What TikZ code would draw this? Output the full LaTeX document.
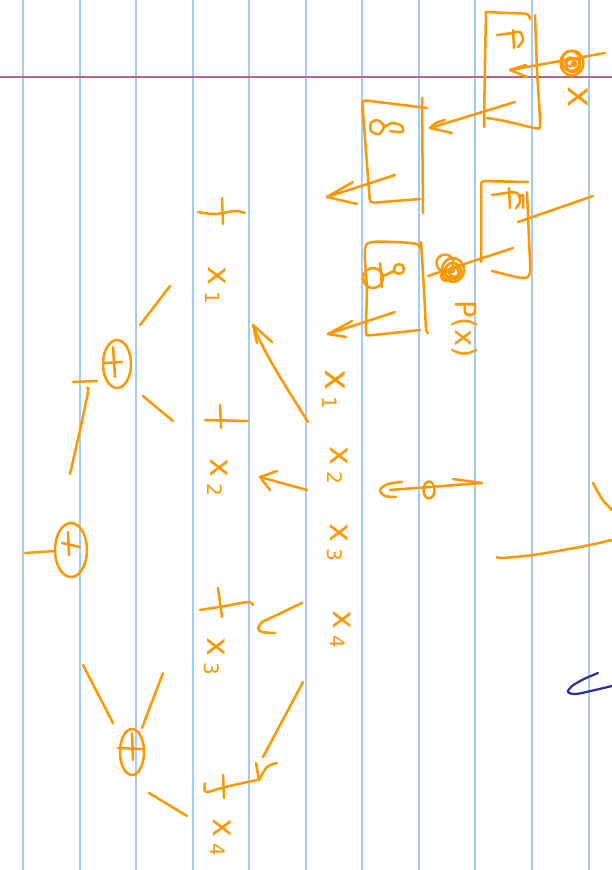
\documentclass[tikz,border=0pt]{standalone}
\usepackage{fontspec}
\setmainfont{DejaVu Sans}
\definecolor{ink}{RGB}{255,152,0}
\definecolor{rulecol}{RGB}{160,204,255}
\definecolor{margincol}{RGB}{190,100,130}
\definecolor{pencol}{RGB}{45,45,150}
\newcommand{\xsub}[1]{x\kern6pt\raisebox{-3pt}{\fontsize{20}{20}\selectfont #1}}
\begin{document}
\begin{tikzpicture}[x=1pt,y=-1pt,line cap=round,line join=round,
  stroke/.style={draw=ink,line width=2.5pt},
  hand/.style={text=ink,inner sep=0pt,rotate=-90,anchor=base west,font=\fontsize{32}{32}\selectfont},
  bighand/.style={hand,font=\fontsize{36}{36}\selectfont},
  pluscirc/.style={stroke},
  rulestyle/.style={draw=rulecol,line width=2pt},
  marginstyle/.style={draw=margincol,line width=1.6pt}]
\useasboundingbox (0,0) rectangle (612,870);
\fill[white] (0,0) rectangle (612,870);
% paper rules
\foreach \x in {23,80,136,193,249,306,362,419,475,532,589}
  \draw[rulestyle] (\x,0) -- (\x,870);
\draw[marginstyle] (0,77) -- (612,77);

% ---------- top right: boxes ----------
% box 1
\draw[stroke] plot[smooth,tension=0.4] coordinates {(530,19)(527,14)(508,13)(486,12)};
\draw[stroke] (486,12) -- (485,60) -- (484,127);
\draw[stroke] plot[smooth,tension=0.4] coordinates {(535,15)(537,70)(540,124)(535,128)(505,121)(487,118)};
\draw[stroke] (497,35) -- (513,33);
\draw[stroke] plot[smooth] coordinates {(513,33)(520,32)(523,40)(518,47)};
\draw[stroke] (513,30) -- (514,48);
% box 2
\draw[stroke,rounded corners=4pt] (427,108) -- (362,100) -- (370,203) -- (420,199);
\draw[stroke] (422,98) -- (423,213);
\draw[stroke] plot[smooth cycle] coordinates {(377,120)(384,126)(379,134)(371,131)(371,123)};
\draw[stroke] plot[smooth] coordinates {(383,128)(392,123)(402,126)(402,132)(390,131)};
% box 3
\draw[stroke,rounded corners=3pt] (528,182) -- (481,181) -- (481,262);
\draw[stroke] plot[smooth,tension=0.4] coordinates {(527,192)(529,240)(530,273)(522,278)(492,271)};
\draw[stroke] (492,195) -- (512,192);
\draw[stroke] plot[smooth] coordinates {(512,192)(518,194)(520,202)(516,208)};
\draw[stroke] (509,188) -- (510,208);
\draw[stroke] (519,196) -- (523,195) -- (523,208);
\coordinate (b3out) at (518,222);
\coordinate (b3end) at (593,196);
\draw[stroke] (b3out) -- (b3end);
% box 4
\draw[stroke] plot[smooth,tension=0.4] coordinates {(420,248)(417,244)(395,242)(366,245)(367,290)(366,332)(372,335)(420,330)};
\draw[stroke] plot[smooth,tension=0.4] coordinates {(421,242)(424,290)(426,328)(428,333)};
\draw[stroke] (373,278) ellipse (10 and 10);
\draw[stroke] (380,263) -- (382,287);
\draw[stroke] (383,276) -- (394,271);
\draw[stroke] (399,269) circle (5);

% dots (scribbles)
\node[inner sep=0pt,minimum size=26pt] (dotA) at (572,63) {};
\draw[stroke] (572,63) ellipse (11.5 and 12.5);
\draw[stroke] (571,61) ellipse (9 and 10);
\draw[stroke] (573,65) circle (7);
\draw[stroke] (570,62) circle (4.5);
\draw[stroke] (574,64) circle (2);
\node[inner sep=0pt,minimum size=28pt] (dotB) at (451,268) {};
\draw[stroke] (445,263) circle (8.5);
\draw[stroke] (446,276) circle (5);
\draw[stroke] (453,270) ellipse (11 and 12);
\draw[stroke] (453,271) circle (8);
\draw[stroke] (454,272) circle (5);
\draw[stroke] (452,270) circle (2);

% labels near dots
\node[bighand] (xtop) at (568,86) {x};
\node[hand,font=\fontsize{29}{29}\selectfont] (px) at (455,300) {P(x)};

% line through dot B into box 3
\coordinate (b4r) at (428,276);
\coordinate (b3in) at (513,248);
\draw[stroke] (b4r) -- (b3in);

% arrows between boxes
\coordinate (a1t) at (605,53); \coordinate (a1h) at (510,70);
\draw[stroke] (a1t) -- (a1h);
\draw[stroke] (526,65) -- (a1h) -- (527,77);
\coordinate (a2t) at (515,102); \coordinate (a2h) at (430,128);
\draw[stroke] (a2t) -- (a2h);
\draw[stroke] plot[smooth] coordinates {(445,120)(436,123)(a2h)};
\draw[stroke] (a2h) -- (452,133);
\coordinate (a3t) at (395,175); \coordinate (a3h) at (327,197);
\draw[stroke] (a3t) -- (a3h);
\draw[stroke] (353,182) -- (a3h) -- (357,204);
\coordinate (a4t) at (395,312); \coordinate (a4h) at (328,334);
\draw[stroke] (a4t) -- (a4h);
\draw[stroke] (352,321) -- (a4h) -- (346,337);

% ---------- middle column ----------
\node[bighand] (mx1) at (325,369) {\xsub{1}};
\node[hand] (mx2) at (330,446) {\xsub{2}};
\node[hand] (mx3) at (330,523) {\xsub{3}};
\node[hand] (mx4) at (333,610) {\xsub{4}};

% arrows from middle column to left column
\coordinate (m1t) at (308,422); \coordinate (m1h) at (253,325);
\draw[stroke] (m1t) .. controls (285,385) and (265,355) .. (m1h);
\draw[stroke] (257,343) -- (m1h) -- (272,342);
\coordinate (m2t) at (307,490); \coordinate (m2h) at (260,477);
\draw[stroke] (m2t) -- (m2h);
\draw[stroke] (277,471) -- (m2h) -- (270,490);
\coordinate (m3t) at (302,603); \coordinate (m3h) at (262,622);
\draw[stroke] (m3t) -- (m3h);
\draw[stroke] plot[smooth] coordinates {(m3h)(258,628)(262,632)(275,633)};
\coordinate (m4t) at (303,682); \coordinate (m4h) at (259,780);
\draw[stroke] (m4t) -- (263,757);
\draw[stroke] (256,763) -- (m4h);
\draw[stroke] plot[smooth] coordinates {(m4h)(267,767)(277,763)};

% ---------- left column: sum ----------
\draw[stroke] plot[smooth] coordinates {(198,212)(215,214)(235,211)(245,213)};
\draw[stroke] (222,198) -- (223,224);
\node[hand] (lx1) at (208,266) {\xsub{1}};
\draw[stroke] (205,420) -- (248,421);
\draw[stroke] (220,405) -- (221,428);
\node[hand] (lx2) at (210,458) {\xsub{2}};
\draw[stroke] plot[smooth] coordinates {(200,610)(225,606)(248,602)(253,605)};
\draw[stroke] (218,588) -- (222,617);
\node[hand] (lx3) at (207,637) {\xsub{3}};
\draw[stroke] plot[smooth] coordinates {(205,783)(206,792)(225,787)(257,780)};
\draw[stroke] (223,775) -- (224,798);
\node[hand] (lx4) at (213,818) {\xsub{4}};

% ---------- tree of circled plus ----------
\node[inner sep=0pt,minimum width=28pt,minimum height=48pt] (p1) at (117,364) {};
\draw[pluscirc] (117,364) ellipse (14 and 24);
\draw[stroke] (104,363) -- (122,362);
\draw[stroke] (113,347) -- (115,377);
\node[inner sep=0pt,minimum width=32pt,minimum height=54pt] (p2) at (71,550) {};
\draw[pluscirc] (71,550) ellipse (16 and 27);
\draw[stroke] (62,543) -- (80,547);
\draw[stroke] (68,532) -- (69,555);
\node[inner sep=0pt,minimum width=24pt,minimum height=46pt] (p3) at (132,752) {};
\draw[pluscirc] (132,752) ellipse (12 and 23);
\draw[stroke] (118,748) -- (142,749);
\draw[stroke] (132,733) -- (133,760);

% tree edges
\draw[stroke] (140,325) -- (170,286);
\draw[stroke] (143,396) -- (173,421);
\draw[stroke] (73,382) -- (97,381);
\draw[stroke] plot[smooth] coordinates {(87,388)(88,392)(80,430)(70,474)};
\draw[stroke] (25,553) -- (55,551);
\draw[stroke] (83,665) -- (113,723);
\draw[stroke] (142,728) -- (163,673);
\draw[stroke] (149,793) -- (187,816);

% ---------- right side ----------
\coordinate (r1) at (482,483); \coordinate (r2) at (390,490);
\draw[stroke] (r1) -- (r2);
\draw[stroke] (453,479) -- (r1);
\draw[stroke] plot[smooth] coordinates {(402,482)(388,484)(380,490)(385,496)(396,497)};
\draw[stroke] (429,490) ellipse (5.5 and 8.5);
\draw[stroke] plot[smooth] coordinates {(497,557)(502,558)(533,555)(580,547)(612,540)};
\draw[stroke] plot[smooth] coordinates {(593,483)(602,499)(612,510)};
\draw[draw=pencol,line width=2.2pt] plot[smooth] coordinates {(598,673)(584,679)(572,686)(568,692)(576,694)(595,690)(612,686)};
\end{tikzpicture}
\end{document}
